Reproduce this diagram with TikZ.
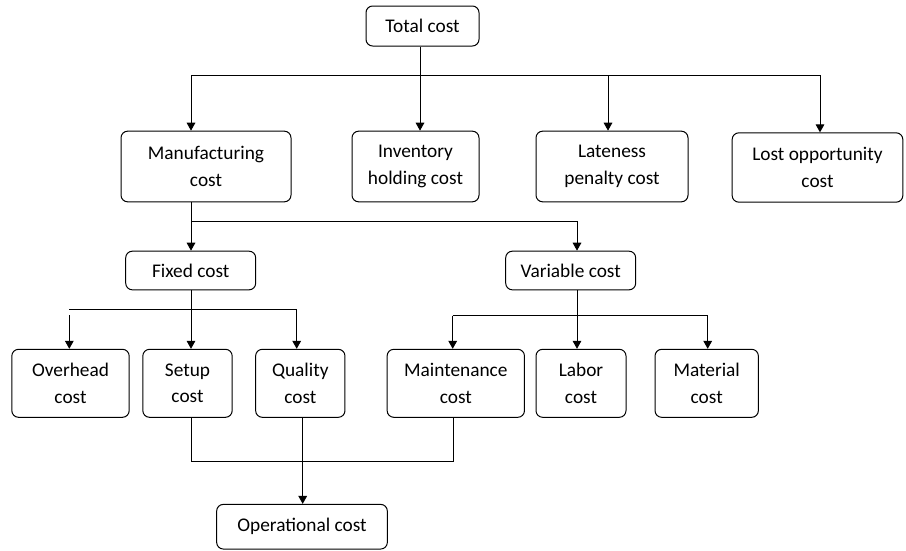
\documentclass[tikz,border=0pt]{standalone}
\usepackage{fontspec}
\setmainfont{Carlito}
\usepackage{tikz}
\usetikzlibrary{arrows.meta, positioning}

\tikzset{
    costbox/.style={draw, rounded corners=5pt, align=center, inner sep=0pt,
        line width=0.75pt, font=\fontsize{14.5}{20}\selectfont},
    arr/.style={-{Triangle[width=6.5pt, length=6pt]}, line width=0.75pt},
    wire/.style={line width=0.75pt}
}

\begin{document}
\begin{tikzpicture}[x=0.75pt, y=-0.75pt]

    \useasboundingbox (0,0) rectangle (906,550);

    % =================================================================
    % 1. CAC HOP CHI PHI
    % =================================================================
    \node[costbox, minimum width=84.75pt, minimum height=30pt] (total) at (422.5,26) {Total cost};

    \node[costbox, minimum width=127.5pt, minimum height=53pt] (manu) at (206,166.5) {Manufacturing\\cost};
    \node[costbox, minimum width=95.25pt, minimum height=53pt] (inv) at (415.5,166.5) {Inventory\\holding cost};
    \node[costbox, minimum width=114pt, minimum height=53pt] (late) at (612,166.5) {Lateness\\penalty cost};
    \node[costbox, minimum width=128pt, minimum height=52pt] (lost) at (817.5,167.5) {Lost opportunity\\cost};

    \node[costbox, minimum width=97.5pt, minimum height=29pt] (fixed) at (190.7,270.5) {Fixed cost};
    \node[costbox, minimum width=97.5pt, minimum height=29pt] (var) at (570.7,270.5) {Variable cost};

    \node[costbox, minimum width=88pt, minimum height=51pt] (over) at (70.5,383.3) {Overhead\\cost};
    \node[costbox, minimum width=67pt, minimum height=51pt] (setup) at (187.5,383.3) {Setup\\cost};
    \node[costbox, minimum width=67pt, minimum height=51pt] (quality) at (300.3,383.3) {Quality\\cost};
    \node[costbox, minimum width=103pt, minimum height=51pt] (maint) at (455.8,383.3) {Maintenance\\cost};
    \node[costbox, minimum width=67.5pt, minimum height=51pt] (labor) at (581,383.3) {Labor\\cost};
    \node[costbox, minimum width=77.5pt, minimum height=51pt] (mat) at (706.7,383.3) {Material\\cost};

    \node[costbox, minimum width=128pt, minimum height=33.5pt] (oper) at (302,526.7) {Operational cost};

    % =================================================================
    % 2. NHANH TU TOTAL COST
    % =================================================================
    \coordinate (busL) at (191,75);
    \coordinate (busR) at (820,75);
    \coordinate (tj) at (420,75);
    \coordinate (lj) at (608,75);

    \draw[wire] (busL) -- (busR);
    \draw[arr] (total.south -| tj) -- (inv.north -| tj);
    \draw[arr] (busL) -- (manu.north -| busL);
    \draw[arr] (lj) -- (late.north -| lj);
    \draw[arr] (busR) -- (lost.north -| busR);

    % =================================================================
    % 3. NHANH TU MANUFACTURING COST
    % =================================================================
    \coordinate (mL) at (191,221);
    \coordinate (mR) at (577,221);

    \draw[wire] (manu.south -| mL) -- (mL) -- (mR);
    \draw[arr] (mL) -- (fixed.north -| mL);
    \draw[arr] (mR) -- (var.north -| mR);

    % =================================================================
    % 4. NHANH TU FIXED COST VA VARIABLE COST
    % =================================================================
    \coordinate (fL) at (69.3,309.3);
    \coordinate (fM) at (191,309.3);
    \coordinate (fR) at (296.7,309.3);
    \coordinate (fO) at (69.3,315);

    \draw[wire] (fixed.south -| fM) -- (fM);
    \draw[wire] (fL) -- (fR);
    \draw[arr] (fO) -- (over.north -| fO);
    \draw[arr] (fM) -- (setup.north -| fM);
    \draw[arr] (fR) -- (quality.north -| fR);

    \coordinate (vL) at (452.7,315.7);
    \coordinate (vM) at (577,315.7);
    \coordinate (vR) at (707.7,315.7);

    \draw[wire] (var.south -| vM) -- (vM);
    \draw[wire] (vL) -- (vR);
    \draw[arr] (vL) -- (maint.north -| vL);
    \draw[arr] (vM) -- (labor.north -| vM);
    \draw[arr] (vR) -- (mat.north -| vR);

    % =================================================================
    % 5. GOP VAO OPERATIONAL COST
    % =================================================================
    \coordinate (oL) at (191,461);
    \coordinate (oR) at (453.3,461);
    \coordinate (oM) at (302.7,461);

    \draw[wire] (setup.south -| oL) -- (oL) -- (oR) -- (maint.south -| oR);
    \draw[arr] (quality.south -| oM) -- (oper.north -| oM);

\end{tikzpicture}
\end{document}
